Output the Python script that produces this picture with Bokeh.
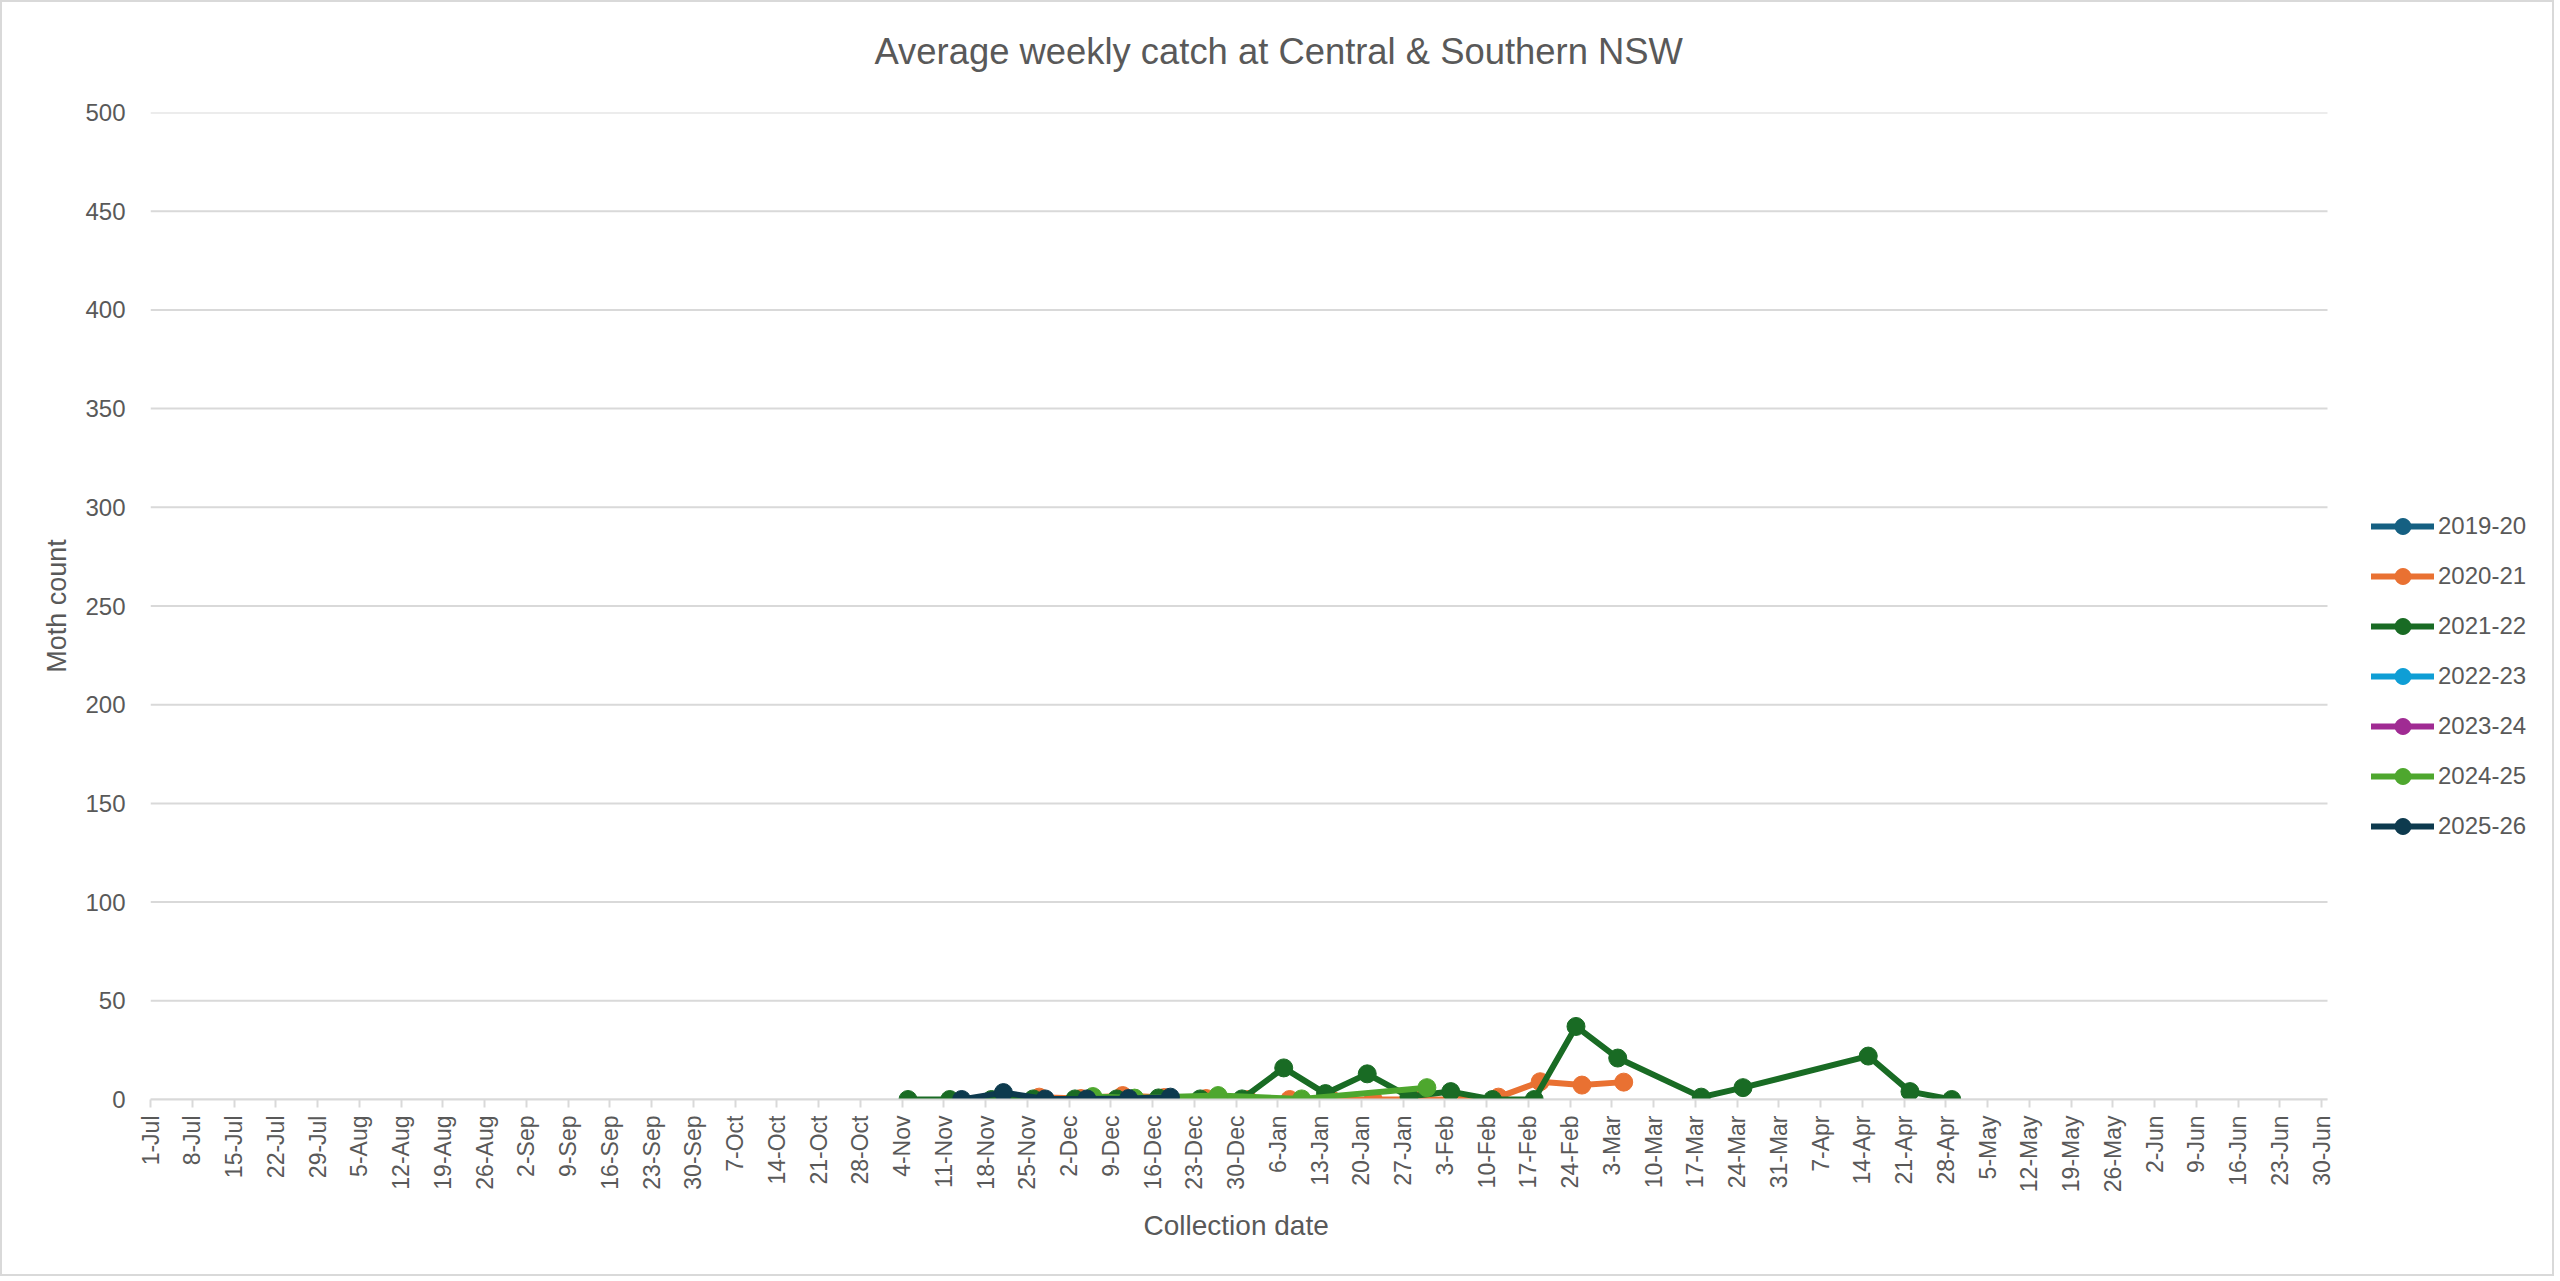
import numpy as np
from bokeh.plotting import figure
from bokeh.models import FixedTicker, Legend, LegendItem, ColumnDataSource, Title
from bokeh.embed import file_html
from bokeh.resources import INLINE

# ---------------- data ----------------
MONTH_START = {"Jul": 0, "Aug": 31, "Sep": 62, "Oct": 92, "Nov": 123, "Dec": 153,
               "Jan": 184, "Feb": 215, "Mar": 243, "Apr": 274, "May": 304, "Jun": 335}

tick_labels = ["1-Jul", "8-Jul", "15-Jul", "22-Jul", "29-Jul",
               "5-Aug", "12-Aug", "19-Aug", "26-Aug",
               "2-Sep", "9-Sep", "16-Sep", "23-Sep", "30-Sep",
               "7-Oct", "14-Oct", "21-Oct", "28-Oct",
               "4-Nov", "11-Nov", "18-Nov", "25-Nov",
               "2-Dec", "9-Dec", "16-Dec", "23-Dec", "30-Dec",
               "6-Jan", "13-Jan", "20-Jan", "27-Jan",
               "3-Feb", "10-Feb", "17-Feb", "24-Feb",
               "3-Mar", "10-Mar", "17-Mar", "24-Mar", "31-Mar",
               "7-Apr", "14-Apr", "21-Apr", "28-Apr",
               "5-May", "12-May", "19-May", "26-May",
               "2-Jun", "9-Jun", "16-Jun", "23-Jun", "30-Jun"]

y_ticks = [0, 50, 100, 150, 200, 250, 300, 350, 400, 450, 500]

series_names = ["2019-20", "2020-21", "2021-22", "2022-23", "2023-24", "2024-25", "2025-26"]
series_colors = ["#156082", "#E97132", "#196B24", "#0F9ED5", "#A02B93", "#4EA72E", "#0D3A4E"]

dates_2019_20 = []
counts_2019_20 = []

dates_2020_21 = ["20-Nov", "27-Nov", "4-Dec", "11-Dec", "18-Dec", "25-Dec", "1-Jan", "8-Jan",
                 "15-Jan", "22-Jan", "29-Jan", "5-Feb", "12-Feb", "19-Feb", "26-Feb", "5-Mar"]
counts_2020_21 = [0, 1.2, 0.5, 2, 1, 0.5, 0, 0, 0, 0, 0, 0, 1.2, 9, 7.3, 8.8]

dates_2021_22 = ["5-Nov", "12-Nov", "19-Nov", "26-Nov", "3-Dec", "10-Dec", "17-Dec", "24-Dec",
                 "31-Dec", "7-Jan", "14-Jan", "21-Jan", "28-Jan", "4-Feb", "11-Feb", "18-Feb",
                 "25-Feb", "4-Mar", "18-Mar", "25-Mar", "15-Apr", "22-Apr", "29-Apr"]
counts_2021_22 = [0, 0, 0, 0.3, 0.3, 0.3, 0.8, 0.3, 0.3, 16, 3, 13, 1.5, 4, 0, 0,
                  37, 21, 1.2, 6, 22, 4, 0]

dates_2022_23 = []
counts_2022_23 = []

dates_2023_24 = []
counts_2023_24 = []

dates_2024_25 = ["6-Dec", "13-Dec", "27-Dec", "10-Jan", "31-Jan"]
counts_2024_25 = [1.5, 0.7, 2, 0.3, 6]

dates_2025_26 = ["14-Nov", "21-Nov", "28-Nov", "5-Dec", "12-Dec", "19-Dec"]
counts_2025_26 = [0, 3.5, 0.3, 0.3, 0.5, 1.2]

all_dates = [dates_2019_20, dates_2020_21, dates_2021_22, dates_2022_23,
             dates_2023_24, dates_2024_25, dates_2025_26]
all_counts = [counts_2019_20, counts_2020_21, counts_2021_22, counts_2022_23,
              counts_2023_24, counts_2024_25, counts_2025_26]

SEASON_DAYS = 365


def day_of_season(s):
    d, m = s.split("-")
    return MONTH_START[m] + int(d) - 1


tick_pos = [day_of_season(t) for t in tick_labels]

# ---------------- layout ----------------
FONT = "Liberation Sans"
TXT = "#595959"
GRID = "#d9d9d9"

W, H = 2554, 1276
FRAME_L, FRAME_T, FRAME_B = 148, 110, 1097
AXIS_R = 2325          # where the 365-day axis ends
FRAME_R = W - 4        # frame extends under the legend
x_end = SEASON_DAYS * (FRAME_R - FRAME_L) / (AXIS_R - FRAME_L)

p = figure(width=W, height=H, x_range=(0, x_end), y_range=(0, 500),
           output_backend="svg", toolbar_location=None,
           min_border_left=FRAME_L, min_border_right=W - FRAME_R,
           min_border_top=FRAME_T, min_border_bottom=H - FRAME_B,
           title="Average weekly catch at Central & Southern NSW")
p.styles = {"border": "2px solid #d9d9d9"}
p.outline_line_color = None
p.background_fill_color = "white"
p.border_fill_color = "white"

p.title.align = "left"
p.title.offset = 724
p.title.standoff = 10
p.title.text_font = FONT
p.title.text_font_size = "36.4px"
p.title.text_font_style = "normal"
p.title.text_color = TXT
# blank spacer between the title and the plot area
p.add_layout(Title(text="\u00a0", text_font_size="1px", standoff=33,
                   text_color="white"), "above")

# y axis
p.yaxis.ticker = FixedTicker(ticks=y_ticks)
p.yaxis.axis_line_color = None
p.yaxis.major_tick_line_color = None
p.yaxis.minor_tick_line_color = None
p.yaxis.major_tick_out = 0
p.yaxis.major_label_standoff = 25
p.yaxis.major_label_text_font = FONT
p.yaxis.major_label_text_font_size = "24px"
p.yaxis.major_label_text_color = TXT
p.yaxis.axis_label = "Moth count"
p.yaxis.axis_label_text_font = FONT
p.yaxis.axis_label_text_font_size = "27px"
p.yaxis.axis_label_text_font_style = "normal"
p.yaxis.axis_label_text_color = TXT
p.yaxis.axis_label_standoff = 10

# horizontal gridlines, limited to the season span
p.xgrid.visible = False
p.ygrid.visible = False
p.segment(x0=[0] * len(y_ticks), x1=[SEASON_DAYS] * len(y_ticks), y0=y_ticks, y1=y_ticks,
          line_color=GRID, line_width=2)

# x axis
p.xaxis.bounds = (0, SEASON_DAYS)
p.xaxis.ticker = FixedTicker(ticks=tick_pos)
p.xaxis.major_label_overrides = {pos: lab for pos, lab in zip(tick_pos, tick_labels)}
p.xaxis.major_label_orientation = np.pi / 2
p.xaxis.axis_line_color = GRID
p.xaxis.axis_line_width = 2
p.xaxis.major_tick_line_color = GRID
p.xaxis.major_tick_line_width = 2
p.xaxis.major_tick_out = 8
p.xaxis.major_tick_in = 0
p.xaxis.minor_tick_line_color = None
p.xaxis.major_label_standoff = 8
p.xaxis.major_label_text_font = FONT
p.xaxis.major_label_text_font_size = "23px"
p.xaxis.major_label_text_color = TXT

# x-axis title, centred under the season span
p.add_layout(Title(text="Collection date", align="left", offset=993, standoff=24,
                   text_font=FONT, text_font_size="28px", text_font_style="normal",
                   text_color=TXT), "below")

# series
items = []
for name, color, ds, cs in zip(series_names, series_colors, all_dates, all_counts):
    xs = [day_of_season(d) for d in ds] if ds else [np.nan]
    ys = list(cs) if cs else [np.nan]
    src = ColumnDataSource(dict(x=xs, y=ys))
    ln = p.line("x", "y", source=src, line_color=color, line_width=6, line_cap="round",
                line_join="round")
    sc = p.scatter("x", "y", source=src, size=18, fill_color=color, line_color=color,
                   line_width=1)
    items.append(LegendItem(label=name, renderers=[ln, sc]))

legend = Legend(items=items, location=(2371 - 150, 253), orientation="vertical",
                glyph_width=63, glyph_height=40, spacing=10, label_standoff=4,
                padding=0, margin=0, border_line_color=None, background_fill_alpha=0,
                label_text_font=FONT, label_text_font_size="24px", label_text_color=TXT)
p.add_layout(legend, "center")

open("out.html", "w").write(file_html(p, INLINE))
